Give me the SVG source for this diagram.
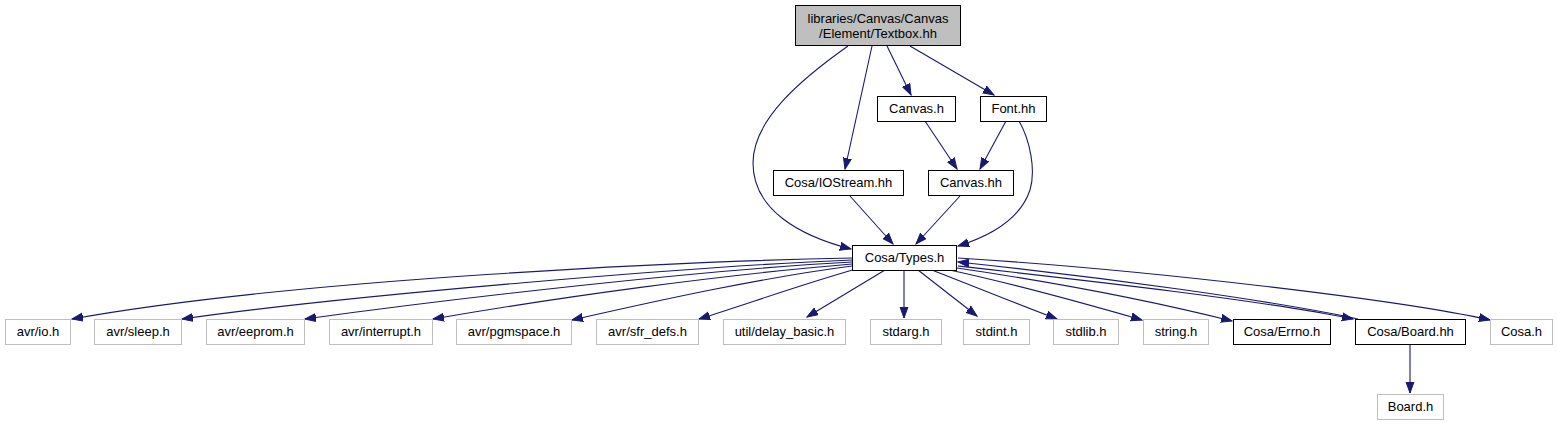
<svg xmlns="http://www.w3.org/2000/svg" width="1558" height="425" viewBox="0 0 1558 425">
<style>
.n rect{fill:#ffffff;stroke:#000000;stroke-width:1}
.g rect{fill:#ffffff;stroke:#bfbfbf;stroke-width:1}
.root rect{fill:#bfbfbf;stroke:#000000;stroke-width:1}
text{font-family:"Liberation Sans",Arial,sans-serif;font-size:13px;fill:#000000;text-anchor:middle}
#edges path{fill:none;stroke:#191970;stroke-width:1.1;marker-end:url(#arr)}
</style>
<defs>
<marker id="arr" markerUnits="userSpaceOnUse" markerWidth="13" markerHeight="10" refX="11" refY="4.5" orient="auto">
<path d="M0,0.5 L11,4.5 L0,8.5 z" fill="#191970" stroke="#191970" stroke-width="1"/>
</marker>
</defs>
<rect width="1558" height="425" fill="#ffffff"/>
<g id="edges">
<path d="M848,46 C800,80 753,120 753,163 C753,210 800,236 851,249"/>
<path d="M872,46 L845,169"/>
<path d="M887,46 L911,95"/>
<path d="M910,46 L994,95"/>
<path d="M925,121 L957,169"/>
<path d="M1006,121 L980,169"/>
<path d="M1019,121 C1030,140 1036,170 1030,190 C1020,220 990,236 958,246"/>
<path d="M850,196 L893,244"/>
<path d="M960,196 L916,244"/>
<path d="M852,258 C700,261 300,278 72,319"/>
<path d="M852,260 C700,266 350,295 182,319"/>
<path d="M852,262 C700,270 450,299 305,319"/>
<path d="M852,264 C720,275 560,297 433,319"/>
<path d="M852,266 C760,278 660,300 572,320"/>
<path d="M856,269 C800,285 750,303 699,319"/>
<path d="M885,270 L807,317"/>
<path d="M904,270 L904,318"/>
<path d="M918,270 L977,316"/>
<path d="M932,270 C975,287 1020,305 1057,319"/>
<path d="M945,269 C1020,285 1090,305 1142,320"/>
<path d="M957,268 C1060,283 1160,303 1232,321"/>
<path d="M958,266 C1100,282 1260,300 1353,319"/>
<path d="M1358,319 C1270,300 1100,277 958,262"/>
<path d="M958,258 C1150,270 1400,300 1490,320"/>
<path d="M1410,344 L1410,393"/>
</g>
<g id="node_textbox" class="root"><rect x="795.5" y="5.5" width="165" height="40"/><text x="878" y="23">libraries/Canvas/Canvas</text><text x="878" y="38">/Element/Textbox.hh</text></g>
<g id="node_canvas_h" class="n"><rect x="877.5" y="96.5" width="78" height="25"/><text x="916.5" y="113">Canvas.h</text></g>
<g id="node_font_hh" class="n"><rect x="980.5" y="96.5" width="66" height="25"/><text x="1013.5" y="113">Font.hh</text></g>
<g id="node_iostream" class="n"><rect x="773.5" y="170.5" width="130" height="25"/><text x="838.5" y="187">Cosa/IOStream.hh</text></g>
<g id="node_canvas_hh" class="n"><rect x="928.5" y="170.5" width="85" height="25"/><text x="971" y="187">Canvas.hh</text></g>
<g id="node_types" class="n"><rect x="852.5" y="245.5" width="104" height="25"/><text x="904.5" y="262">Cosa/Types.h</text></g>
<g id="node_avr_io" class="g"><rect x="5.5" y="319.5" width="65" height="25"/><text x="38" y="336">avr/io.h</text></g>
<g id="node_avr_sleep" class="g"><rect x="94.5" y="319.5" width="87" height="25"/><text x="138" y="336">avr/sleep.h</text></g>
<g id="node_avr_eeprom" class="g"><rect x="206.5" y="319.5" width="98" height="25"/><text x="255.5" y="336">avr/eeprom.h</text></g>
<g id="node_avr_interrupt" class="g"><rect x="329.5" y="319.5" width="103" height="25"/><text x="381" y="336">avr/interrupt.h</text></g>
<g id="node_avr_pgmspace" class="g"><rect x="456.5" y="319.5" width="115" height="25"/><text x="514" y="336">avr/pgmspace.h</text></g>
<g id="node_avr_sfr_defs" class="g"><rect x="596.5" y="319.5" width="102" height="25"/><text x="647.5" y="336">avr/sfr_defs.h</text></g>
<g id="node_delay_basic" class="g"><rect x="723.5" y="319.5" width="122" height="25"/><text x="784.5" y="336">util/delay_basic.h</text></g>
<g id="node_stdarg" class="g"><rect x="870.5" y="319.5" width="71" height="25"/><text x="906" y="336">stdarg.h</text></g>
<g id="node_stdint" class="g"><rect x="963.5" y="319.5" width="66" height="25"/><text x="996.5" y="336">stdint.h</text></g>
<g id="node_stdlib" class="g"><rect x="1053.5" y="319.5" width="65" height="25"/><text x="1086" y="336">stdlib.h</text></g>
<g id="node_string" class="g"><rect x="1143.5" y="319.5" width="65" height="25"/><text x="1176" y="336">string.h</text></g>
<g id="node_errno" class="n"><rect x="1233.5" y="319.5" width="97" height="25"/><text x="1282" y="336">Cosa/Errno.h</text></g>
<g id="node_board_hh" class="n"><rect x="1355.5" y="319.5" width="110" height="25"/><text x="1410.5" y="336">Cosa/Board.hh</text></g>
<g id="node_cosa_h" class="g"><rect x="1490.5" y="319.5" width="62" height="25"/><text x="1521.5" y="336">Cosa.h</text></g>
<g id="node_board_h" class="g"><rect x="1377.5" y="394.5" width="66" height="25"/><text x="1410.5" y="411">Board.h</text></g>
</svg>
